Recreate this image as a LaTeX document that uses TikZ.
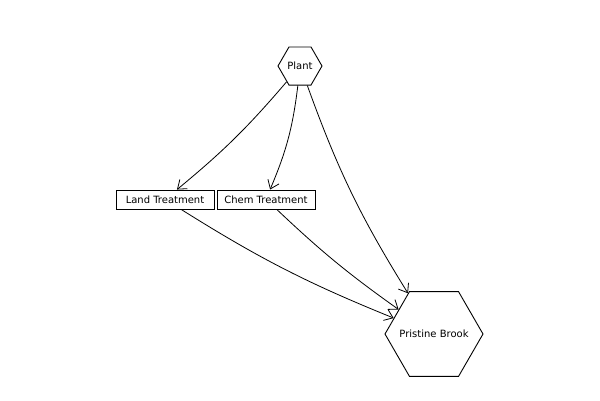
\documentclass[tikz,border=0pt]{standalone}
\usepackage{fontspec}
\setmainfont{DejaVu Sans}
\usetikzlibrary{shapes.geometric,arrows.meta}
\begin{document}
\begin{tikzpicture}[x=1pt,y=-1pt,
  hexa/.style={draw,regular polygon,regular polygon sides=6,inner sep=0pt,line width=0.9pt},
  box/.style={draw,rectangle,minimum width=98pt,minimum height=19pt,inner sep=0pt,line width=0.9pt},
  link/.style={-{Straight Barb[length=8pt,width=12pt]},line width=0.8pt},
  font=\fontsize{10}{12}\selectfont]
\useasboundingbox (0,0) rectangle (600,400);
\node[hexa,minimum size=44pt] (plant) at (300,66) {\makebox[0pt]{Plant}};
\node[box] (land) at (165,199.5) {Land Treatment};
\node[box] (chem) at (266,199.5) {Chem Treatment};
\node[hexa,minimum size=98pt] (brook) at (434,334) {\makebox[0pt]{Pristine Brook}};
\draw[link] (plant) to[bend left=5] (land);
\draw[link] (plant) to[bend left=8] (chem);
\draw[link] (plant) to[bend right=6] (brook);
\draw[link] (land) to[bend right=5] (brook);
\draw[link] (chem) to[bend right=4] (brook);
\end{tikzpicture}
\end{document}
